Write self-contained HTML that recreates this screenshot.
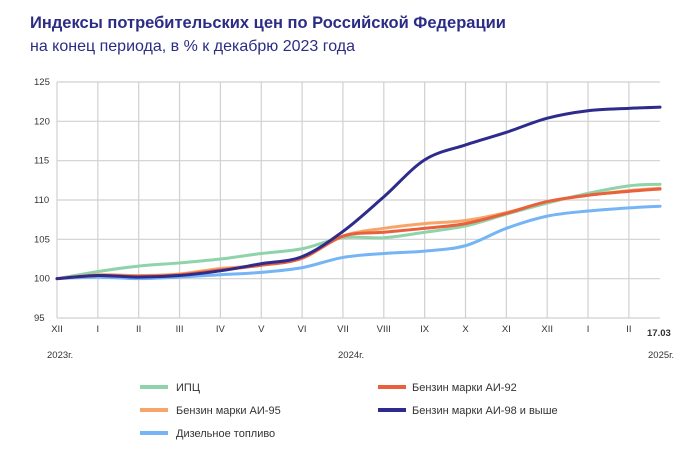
<!DOCTYPE html>
<html><head><meta charset="utf-8"><style>
body{margin:0;background:#fff;width:700px;height:454px;overflow:hidden;font-family:"Liberation Sans",sans-serif}
</style></head><body>
<svg id="s" width="700" height="454" xmlns="http://www.w3.org/2000/svg" font-family="Liberation Sans, sans-serif">
<text x="30" y="28" font-size="16.5" font-weight="bold" fill="#2b2c85">Индексы потребительских цен по Российской Федерации</text>
<text x="30" y="51" font-size="16" fill="#2b2c85">на конец периода, в % к декабрю 2023 года</text>
<g id="grid" stroke="#d0d0d0" stroke-width="1.2"></g>
<g id="lab" font-size="9.5" fill="#333"></g>
<g id="ser" fill="none" stroke-linecap="round" stroke-linejoin="round"></g>
<g font-size="11" fill="#333">
<line x1="140" y1="387" x2="168" y2="387" stroke="#8fd3ab" stroke-width="4"/><text x="176" y="391">ИПЦ</text>
<line x1="378" y1="387" x2="406" y2="387" stroke="#e8603c" stroke-width="4"/><text x="412" y="391">Бензин марки АИ-92</text>
<line x1="140" y1="410" x2="168" y2="410" stroke="#f7a56a" stroke-width="4"/><text x="176" y="414">Бензин марки АИ-95</text>
<line x1="378" y1="410" x2="406" y2="410" stroke="#2e2b8c" stroke-width="4"/><text x="412" y="414">Бензин марки АИ-98 и выше</text>
<line x1="140" y1="433" x2="168" y2="433" stroke="#76b5f5" stroke-width="4"/><text x="176" y="437">Дизельное топливо</text>
</g>
</svg>
<script>
var NS="http://www.w3.org/2000/svg";
function el(p,t,a,txt){var e=document.createElementNS(NS,t);for(var k in a)e.setAttribute(k,a[k]);if(txt)e.textContent=txt;document.getElementById(p).appendChild(e);}
var x0=57,dx=40.85,y0=82,y1=318;
function X(i){return i<15?x0+i*dx:660;}
function Y(v){return y0+(125-v)*(y1-y0)/30;}
for(var v=95;v<=125;v+=5){el("grid","line",{x1:x0,x2:660,y1:Y(v),y2:Y(v)});el("lab","text",{x:34,y:Y(v)+3},""+v);}
for(var i=0;i<15;i++)el("grid","line",{x1:X(i),x2:X(i),y1:y0,y2:y1});
var m=["XII","I","II","III","IV","V","VI","VII","VIII","IX","X","XI","XII","I","II"];
for(var i=0;i<15;i++)el("lab","text",{x:X(i),y:332,"text-anchor":"middle"},m[i]);
el("lab","text",{x:647,y:336,"font-weight":"bold","text-anchor":"start"},"17.03");
el("lab","text",{x:47,y:358},"2023г.");el("lab","text",{x:338,y:358},"2024г.");el("lab","text",{x:648,y:358},"2025г.");
var S=[
["#8fd3ab",[100,100.9,101.6,102.0,102.5,103.2,103.8,105.2,105.2,105.9,106.7,108.2,109.6,110.85,111.8,112.0]],
["#76b5f5",[100,100.2,100.0,100.2,100.5,100.8,101.4,102.7,103.2,103.5,104.2,106.4,107.95,108.6,109.0,109.2]],
["#f7a56a",[100,100.5,100.4,100.6,101.3,101.7,102.6,105.4,106.4,107.0,107.4,108.4,109.8,110.6,111.2,111.5]],
["#e8603c",[100,100.4,100.3,100.5,101.1,101.7,102.6,105.4,105.9,106.4,107.0,108.3,109.8,110.6,111.1,111.4]],
["#2e2b8c",[100,100.4,100.2,100.4,101.0,101.9,102.8,106.0,110.4,115.1,117.0,118.6,120.4,121.35,121.65,121.8]]];
S.forEach(function(s){var p=s[1].map(function(v,i){return[X(i),Y(v)]});var d="M"+p[0];
for(var i=0;i<p.length-1;i++){var a=p[i-1]||p[i],b=p[i],c=p[i+1],e=p[i+2]||c;
d+="C"+(b[0]+(c[0]-a[0])/6)+","+(b[1]+(c[1]-a[1])/6)+" "+(c[0]-(e[0]-b[0])/6)+","+(c[1]-(e[1]-b[1])/6)+" "+c[0]+","+c[1];}
el("ser","path",{d:d,stroke:s[0],"stroke-width":3});});
</script>
</body></html>
